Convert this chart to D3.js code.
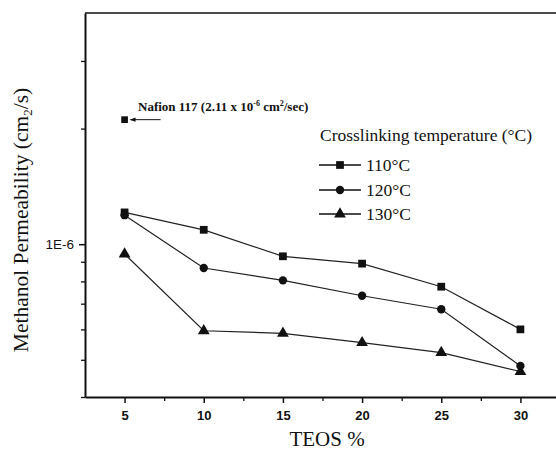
<!DOCTYPE html>
<html><head><meta charset="utf-8">
<script src="https://cdn.jsdelivr.net/npm/d3@7"></script>
<style>body{margin:0;background:#fff}svg{display:block}</style>
</head><body>
<svg id="c" width="556" height="452"></svg>
<script>
const teos = [5, 10, 15, 20, 25, 30];
const perm110 = [1.21e-6, 1.09e-6, 9.3e-7, 8.9e-7, 7.75e-7, 6.0e-7];
const perm120 = [1.19e-6, 8.67e-7, 8.05e-7, 7.34e-7, 6.77e-7, 4.82e-7];
const perm130 = [9.43e-7, 5.95e-7, 5.86e-7, 5.54e-7, 5.22e-7, 4.66e-7];
const seriesNames = ["110°C", "120°C", "130°C"];
const seriesSymbols = ["square", "circle", "triangle"];
const nafionTeos = 5, nafionValue = 2.11e-6;
const xTicks = [5, 10, 15, 20, 25, 30];
const xMinor = [7.5, 12.5, 17.5, 22.5, 27.5];
const yMajor = [1e-6];
const yMinor = [4e-7, 5e-7, 6e-7, 7e-7, 8e-7, 9e-7, 2e-6, 3e-6];

const svg = d3.select("#c");
const L = 85, T = 13, B = 397, R = 560;
const x = d3.scaleLinear().domain([2.5, 32.5]).range([L, R]);
const y = d3.scaleLog().domain([4e-7, 4e-6]).range([B, T]);

const ink = "#111";
// frame
svg.append("line").attr("x1", L).attr("x2", 556).attr("y1", T).attr("y2", T).attr("stroke", ink).attr("stroke-width", 1.6);

// x axis
const xAxis = d3.axisBottom(x).tickValues(xTicks).tickSize(6).tickSizeOuter(0).tickFormat(d3.format("d"));
const gx = svg.append("g").attr("transform", `translate(0,${B})`).call(xAxis);
gx.select(".domain").attr("stroke", ink).attr("stroke-width", 2);
gx.selectAll(".tick line").attr("stroke", ink).attr("stroke-width", 1.5);
gx.selectAll(".tick text").attr("font-family", "Liberation Sans, Arial, sans-serif").attr("font-weight", "bold").attr("font-size", 13).attr("fill", ink).attr("dy", "1.05em");
const gxm = svg.append("g").attr("transform", `translate(0,${B})`).call(d3.axisBottom(x).tickValues(xMinor).tickSize(4).tickFormat(""));
gxm.select(".domain").remove();
gxm.selectAll(".tick line").attr("stroke", ink).attr("stroke-width", 1.3);

// y axis
const yAxis = d3.axisLeft(y).tickValues(yMajor).tickSize(6).tickSizeOuter(0).tickFormat(() => "1E-6");
const gy = svg.append("g").attr("transform", `translate(${L},0)`).call(yAxis);
gy.select(".domain").attr("stroke", ink).attr("stroke-width", 2);
gy.selectAll(".tick line").attr("stroke", ink).attr("stroke-width", 1.5);
gy.selectAll(".tick text").attr("font-family", "Liberation Sans, Arial, sans-serif").attr("font-size", 13.5).attr("fill", ink).attr("x", -11);
const gym = svg.append("g").attr("transform", `translate(${L},0)`).call(d3.axisLeft(y).tickValues(yMinor).tickSize(4).tickFormat(""));
gym.select(".domain").remove();
gym.selectAll(".tick line").attr("stroke", ink).attr("stroke-width", 1.3);

// axis titles
svg.append("text").attr("x", 327).attr("y", 446).attr("text-anchor", "middle")
  .attr("font-family", "Liberation Serif, Times New Roman, serif").attr("font-size", 21).attr("fill", ink).text("TEOS %");
const yl = svg.append("text").attr("transform", "translate(28,220) rotate(-90)").attr("text-anchor", "middle")
  .attr("font-family", "Liberation Serif, Times New Roman, serif").attr("font-size", 21.5).attr("fill", ink);
yl.append("tspan").text("Methanol Permeability (cm");
yl.append("tspan").attr("font-size", 13).attr("dy", 4).text("2");
yl.append("tspan").attr("dy", -4).text("/s)");

// series
const data = [perm110, perm120, perm130];
const symType = {square: d3.symbolSquare, circle: d3.symbolCircle, triangle: d3.symbolTriangle};
const symSize = {square: 60, circle: 55, triangle: 60};
const line = d3.line().x((d, i) => x(teos[i])).y(d => y(d));
data.forEach((vals, k) => {
  svg.append("path").attr("d", line(vals)).attr("fill", "none").attr("stroke", "#222").attr("stroke-width", 1.2);
  svg.append("g").selectAll("path").data(vals).join("path")
    .attr("transform", (d, i) => `translate(${x(teos[i])},${y(d)})`)
    .attr("d", d3.symbol().type(symType[seriesSymbols[k]]).size(symSize[seriesSymbols[k]]))
    .attr("fill", ink);
});

// Nafion point + annotation
const nx = x(nafionTeos), ny = y(nafionValue);
svg.append("path").attr("transform", `translate(${nx},${ny})`).attr("d", d3.symbol().type(d3.symbolSquare).size(45)).attr("fill", ink);
svg.append("line").attr("x1", nx + 6).attr("x2", nx + 36).attr("y1", ny).attr("y2", ny).attr("stroke", ink).attr("stroke-width", 1);
svg.append("path").attr("d", `M${nx + 5},${ny} L${nx + 11},${ny - 2.2} L${nx + 11},${ny + 2.2} Z`).attr("fill", ink);
const nt = svg.append("text").attr("x", 138).attr("y", 111)
  .attr("font-family", "Liberation Serif, Times New Roman, serif").attr("font-weight", "bold").attr("font-size", 13).attr("fill", ink);
nt.append("tspan").text("Nafion 117 (2.11 x 10");
nt.append("tspan").attr("font-size", 8).attr("dy", -5).text("-6");
nt.append("tspan").attr("dy", 5).text(" cm");
nt.append("tspan").attr("font-size", 8).attr("dy", -5).text("2");
nt.append("tspan").attr("dy", 5).text("/sec)");

// legend
const lg = svg.append("g");
lg.append("text").attr("x", 320).attr("y", 141)
  .attr("font-family", "Liberation Serif, Times New Roman, serif").attr("font-size", 17.5).attr("fill", ink)
  .text("Crosslinking temperature (°C)");
const rows = [165, 190, 214];
seriesNames.forEach((name, k) => {
  const yy = rows[k];
  lg.append("line").attr("x1", 319).attr("x2", 361).attr("y1", yy).attr("y2", yy).attr("stroke", ink).attr("stroke-width", 1.5);
  lg.append("path").attr("transform", `translate(340,${yy})`)
    .attr("d", d3.symbol().type(symType[seriesSymbols[k]]).size(symSize[seriesSymbols[k]])).attr("fill", ink);
  lg.append("text").attr("x", 366).attr("y", yy + 6)
    .attr("font-family", "Liberation Serif, Times New Roman, serif").attr("font-size", 17.5).attr("fill", ink).text(name);
});
</script>
</body></html>
